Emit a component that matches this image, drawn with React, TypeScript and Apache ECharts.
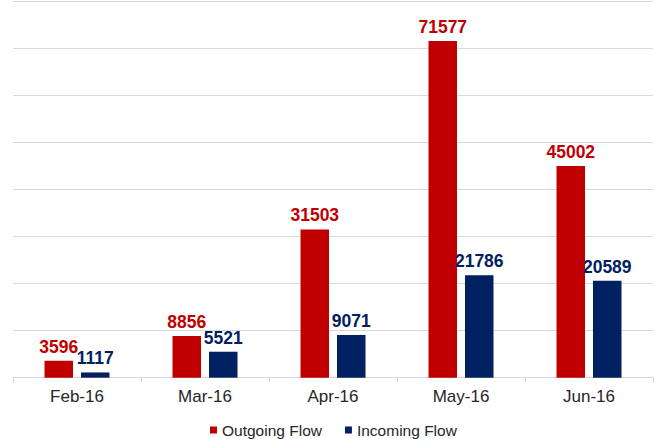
import React, { useEffect, useRef } from "react";
import * as echarts from "echarts";

const categories = ["Feb-16", "Mar-16", "Apr-16", "May-16", "Jun-16"];
const outgoing = [3596, 8856, 31503, 71577, 45002];
const incoming = [1117, 5521, 9071, 21786, 20589];
const seriesNames = ["Outgoing Flow", "Incoming Flow"];

const RED = "#C00000";
const NAVY = "#002060";
const FONT = "'Liberation Sans', Arial, sans-serif";

export default function App() {
  const ref = useRef<HTMLDivElement>(null);
  useEffect(() => {
    if (!ref.current) return;
    const chart = echarts.init(ref.current, undefined, { renderer: "svg" });
    const label = (color: string) => ({
      show: true,
      position: "top" as const,
      distance: 5,
      color,
      fontSize: 17.5,
      fontWeight: "bold" as const,
      fontFamily: FONT,
    });
    chart.setOption({
      animation: false,
      backgroundColor: "#ffffff",
      grid: { left: 13, right: 2, top: 1.3, bottom: 61.3, containLabel: false },
      legend: {
        data: seriesNames,
        left: 210,
        top: 422,
        padding: 0,
        itemWidth: 7,
        itemHeight: 7,
        itemGap: 23,
        icon: "rect",
        textStyle: { fontSize: 15.5, lineHeight: 16, color: "#262626", fontFamily: FONT },
      },
      xAxis: {
        type: "category",
        data: categories,
        axisLine: { show: true, lineStyle: { color: "#d9d9d9", width: 1 } },
        axisTick: { show: true, length: 5, lineStyle: { color: "#d9d9d9" } },
        axisLabel: { fontSize: 17, color: "#262626", fontFamily: FONT, margin: 10 },
      },
      yAxis: {
        type: "value",
        min: 0,
        max: 80000,
        interval: 10000,
        axisLine: { show: false },
        axisTick: { show: false },
        axisLabel: { show: false },
        splitLine: { show: true, lineStyle: { color: "#d9d9d9", width: 1 } },
      },
      series: [
        {
          name: seriesNames[0],
          type: "bar",
          data: outgoing,
          barWidth: 28.5,
          barGap: "28%",
          itemStyle: { color: RED },
          label: label(RED),
        },
        {
          name: seriesNames[1],
          type: "bar",
          data: incoming,
          barWidth: 28.5,
          itemStyle: { color: NAVY },
          label: label(NAVY),
        },
      ],
    });
    return () => chart.dispose();
  }, []);
  return (
    <div
      ref={ref}
      style={{ position: "fixed", left: 0, top: 0, width: 655, height: 439 }}
    />
  );
}
